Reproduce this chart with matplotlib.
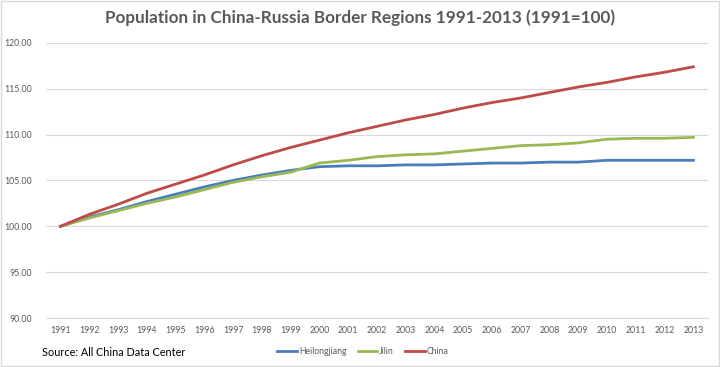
import matplotlib
matplotlib.use("Agg")
import matplotlib.pyplot as plt
from matplotlib.patches import Rectangle

years = list(range(1991, 2014))
heilongjiang = [100.0, 101.0, 101.8, 102.7, 103.5, 104.3, 105.0, 105.6, 106.1, 106.5,
                106.6, 106.6, 106.7, 106.7, 106.8, 106.9, 106.9, 107.0, 107.0, 107.2,
                107.2, 107.2, 107.2]
jilin = [100.0, 100.9, 101.7, 102.5, 103.2, 104.0, 104.8, 105.4, 105.9, 106.9,
         107.2, 107.6, 107.8, 107.9, 108.2, 108.5, 108.8, 108.9, 109.1, 109.5,
         109.6, 109.6, 109.7]
china = [100.0, 101.3, 102.4, 103.6, 104.6, 105.6, 106.7, 107.7, 108.6, 109.4,
         110.2, 110.9, 111.6, 112.2, 112.9, 113.5, 114.0, 114.6, 115.2, 115.7,
         116.3, 116.8, 117.4]
yticks = [90, 95, 100, 105, 110, 115, 120]

plt.rcParams['font.family'] = ['Lato', 'DejaVu Sans']

fig = plt.figure(figsize=(7.2, 3.67), dpi=100)
ax = fig.add_axes([0.064, 0.1335, 0.919, 0.7495])

x = list(range(len(years)))
ax.plot(x, heilongjiang, color='#4a7ebb', lw=2, label='Heilongjiang', zorder=3)
ax.plot(x, jilin, color='#98b954', lw=2, label='Jilin', zorder=3)
ax.plot(x, china, color='#be4b48', lw=2, label='China', zorder=4)

ax.set_xlim(-0.5, len(years) - 0.5)
ax.set_ylim(90, 120)
ax.set_yticks(yticks)
ax.set_yticklabels([f"{v:.2f}" for v in yticks])
ax.set_xticks(x)
ax.set_xticklabels([str(y) for y in years])
ax.tick_params(axis='both', length=0, labelsize=6.3, colors='#595959')
ax.tick_params(axis='x', pad=6)
ax.tick_params(axis='y', pad=10)
ax.grid(axis='y', color='#d9d9d9', lw=0.8)
ax.set_axisbelow(True)
for s in ['top', 'right', 'left']:
    ax.spines[s].set_visible(False)
ax.spines['bottom'].set_color('#d9d9d9')

fig.text(0.5, 0.952, "Population in China-Russia Border Regions 1991-2013 (1991=100)",
         ha='center', va='center', fontsize=12.3, fontweight='bold', color='#595959')
fig.text(0.058, 0.025, "Source: All China Data Center", ha='left', va='bottom',
         fontsize=7.8, color='#000000')

leg = fig.legend(loc='center', bbox_to_anchor=(0.504, 0.043), ncol=3, frameon=False,
                 fontsize=6.2, handlelength=2.3, handletextpad=0.2, columnspacing=1.3)
for t in leg.get_texts():
    t.set_color('#595959')

fig.patches.append(Rectangle((0.001, 0.002), 0.997, 0.996, transform=fig.transFigure,
                             fill=False, edgecolor='#d9d9d9', lw=1))

fig.savefig("out.png", dpi=100)
